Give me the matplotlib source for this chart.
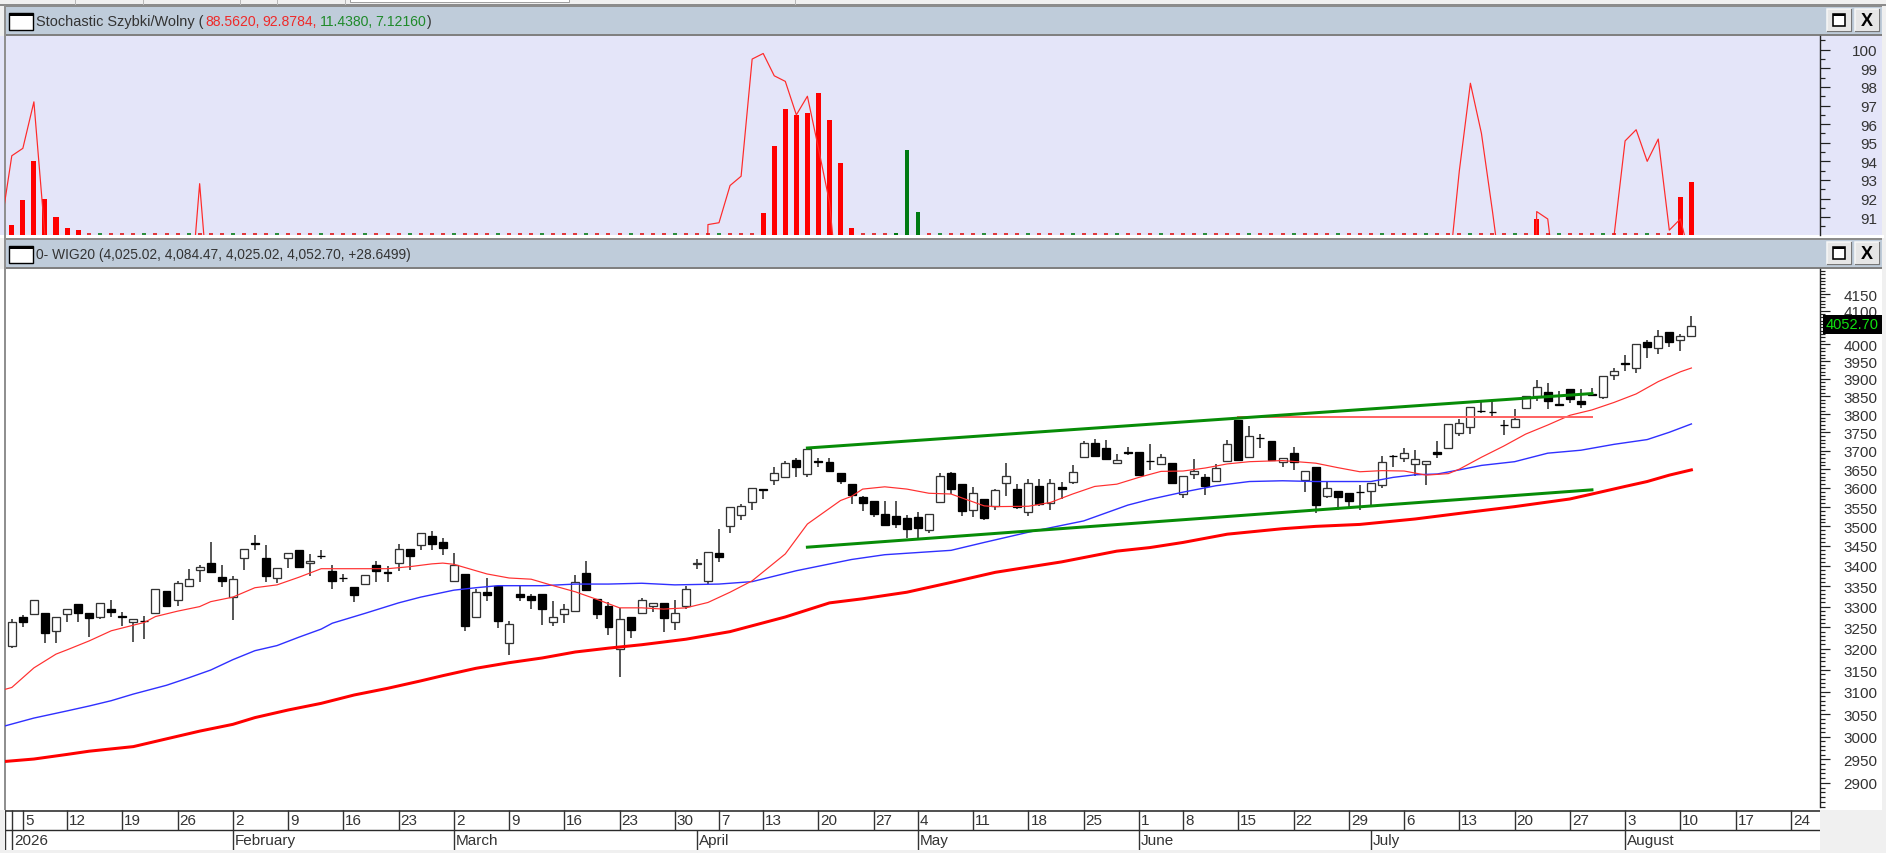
import numpy as np
import matplotlib
matplotlib.use("Agg")
import matplotlib.pyplot as plt
from matplotlib.patches import Rectangle
from matplotlib.ticker import FixedLocator, NullFormatter

plt.rcParams['font.family'] = ['Liberation Sans', 'DejaVu Sans']

# WIG20 daily candles (bar 0 = 2 Jan 2026)
open_ = [3206, 3274, 3281, 3285, 3242, 3282, 3306, 3285, 3275, 3294, 3277, 3262, 3266, 3284, 3339, 3315, 3351, 3389,
         3407, 3373, 3323, 3419, 3458, 3420, 3369, 3420, 3439, 3408, 3425, 3388, 3371, 3348, 3354, 3401, 3386, 3408,
         3442, 3452, 3476, 3461, 3363, 3380, 3275, 3336, 3351, 3213, 3331, 3325, 3331, 3263, 3281, 3290, 3383, 3319,
         3301, 3200, 3276, 3284, 3302, 3309, 3264, 3301, 3405, 3363, 3433, 3502, 3530, 3562, 3596, 3622, 3630, 3674,
         3636, 3671, 3670, 3639, 3610, 3575, 3567, 3531, 3526, 3522, 3525, 3491, 3563, 3639, 3610, 3541, 3570, 3553,
         3613, 3597, 3537, 3606, 3560, 3603, 3616, 3683, 3721, 3707, 3666, 3697, 3697, 3673, 3663, 3666, 3584, 3636,
         3630, 3618, 3673, 3785, 3683, 3735, 3725, 3668, 3694, 3620, 3657, 3580, 3593, 3587, 3590, 3591, 3608, 3686,
         3679, 3663, 3663, 3696, 3706, 3748, 3765, 3810, 3807, 3770, 3764, 3818, 3850, 3863, 3828, 3871, 3837, 3856,
         3847, 3911, 3944, 3930, 4008, 3988, 4036, 4014, 4025.02]
high = [3270, 3280, 3315, 3285, 3276, 3293, 3306, 3285, 3309, 3315, 3286, 3269, 3277, 3343, 3339, 3363, 3393, 3402,
        3459, 3402, 3374, 3442, 3478, 3453, 3395, 3433, 3439, 3431, 3440, 3402, 3380, 3348, 3378, 3412, 3399, 3455,
        3442, 3483, 3487, 3470, 3433, 3380, 3344, 3370, 3351, 3266, 3351, 3331, 3331, 3313, 3306, 3377, 3411, 3319,
        3312, 3296, 3276, 3322, 3309, 3309, 3315, 3351, 3418, 3436, 3493, 3550, 3557, 3600, 3596, 3656, 3673, 3679,
        3705, 3681, 3681, 3639, 3610, 3580, 3567, 3567, 3565, 3528, 3538, 3531, 3639, 3642, 3610, 3603, 3570, 3597,
        3666, 3610, 3623, 3623, 3623, 3615, 3661, 3727, 3732, 3729, 3691, 3711, 3697, 3718, 3691, 3666, 3631, 3677,
        3637, 3664, 3729, 3785, 3767, 3745, 3725, 3680, 3709, 3646, 3657, 3615, 3593, 3587, 3609, 3613, 3684, 3688,
        3707, 3702, 3673, 3725, 3772, 3787, 3821, 3835, 3839, 3785, 3815, 3852, 3897, 3888, 3866, 3871, 3871, 3874,
        3909, 3931, 3968, 4000, 4012, 4041, 4036, 4029, 4084.47]
low = [3202, 3250, 3281, 3214, 3212, 3262, 3262, 3228, 3269, 3274, 3254, 3216, 3222, 3284, 3298, 3301, 3351, 3359,
       3384, 3349, 3268, 3390, 3441, 3359, 3358, 3394, 3397, 3374, 3417, 3344, 3359, 3311, 3354, 3359, 3359, 3387,
       3391, 3441, 3441, 3428, 3363, 3241, 3275, 3313, 3248, 3185, 3314, 3293, 3256, 3253, 3261, 3290, 3341, 3269,
       3233, 3135, 3226, 3281, 3286, 3238, 3244, 3294, 3393, 3354, 3409, 3482, 3517, 3542, 3570, 3608, 3630, 3630,
       3628, 3655, 3646, 3611, 3559, 3540, 3523, 3502, 3497, 3469, 3468, 3484, 3563, 3584, 3526, 3523, 3516, 3543,
       3579, 3545, 3526, 3553, 3543, 3572, 3611, 3683, 3684, 3676, 3666, 3689, 3634, 3648, 3663, 3612, 3573, 3625,
       3582, 3618, 3670, 3675, 3681, 3706, 3675, 3655, 3648, 3589, 3534, 3573, 3541, 3549, 3541, 3552, 3599, 3657,
       3668, 3632, 3608, 3679, 3706, 3739, 3745, 3803, 3794, 3743, 3761, 3818, 3838, 3815, 3824, 3831, 3818, 3852,
       3844, 3896, 3923, 3918, 3959, 3973, 3991, 3981, 4025.02]
close = [3264, 3262, 3315, 3236, 3276, 3293, 3284, 3273, 3309, 3286, 3276, 3269, 3265, 3343, 3302, 3358, 3367, 3396,
         3384, 3363, 3367, 3442, 3454, 3375, 3395, 3433, 3397, 3413, 3424, 3362, 3370, 3327, 3378, 3388, 3382, 3442,
         3425, 3483, 3454, 3445, 3403, 3254, 3336, 3329, 3265, 3257, 3324, 3317, 3295, 3276, 3293, 3360, 3341, 3281,
         3251, 3269, 3244, 3315, 3309, 3272, 3284, 3343, 3406, 3436, 3422, 3550, 3553, 3600, 3595, 3639, 3666, 3655,
         3705, 3670, 3646, 3618, 3582, 3560, 3533, 3503, 3507, 3492, 3495, 3531, 3632, 3596, 3540, 3586, 3522, 3594,
         3631, 3551, 3613, 3557, 3613, 3596, 3643, 3720, 3686, 3676, 3674, 3694, 3634, 3672, 3683, 3612, 3631, 3644,
         3604, 3653, 3718, 3675, 3741, 3734, 3675, 3680, 3668, 3646, 3555, 3600, 3576, 3567, 3589, 3613, 3670, 3685,
         3694, 3676, 3673, 3690, 3772, 3776, 3821, 3809, 3806, 3769, 3786, 3852, 3876, 3838, 3827, 3843, 3829, 3855,
         3909, 3923, 3943, 4000, 3992, 4025, 4007, 4024, 4052.70]

# moving averages, (bar, value) read at the bends
ma_fast_idx = [-1, 0, 2, 4, 5, 7, 9, 12, 13, 15, 17, 18, 20, 22, 24, 26, 28, 31, 34, 36, 38, 39, 40, 43, 45, 47, 49,
               51, 53, 55, 57, 59, 61, 63, 65, 67, 70, 72, 75, 76, 77, 79, 81, 83, 85, 88, 89, 92, 94, 96, 98, 100,
               102, 104, 106, 108, 110, 112, 115, 118, 120, 122, 124, 126, 128, 130, 131, 133, 135, 137, 139, 141,
               143, 145, 147, 149, 151, 152]
ma_fast = [3103, 3110, 3155, 3187, 3197, 3218, 3242, 3262, 3276, 3289, 3300, 3312, 3323, 3346, 3353, 3372, 3393, 3393,
           3393, 3398, 3405, 3407, 3404, 3380, 3370, 3367, 3351, 3336, 3317, 3297, 3297, 3294, 3297, 3310, 3335, 3363,
           3430, 3506, 3567, 3578, 3597, 3603, 3597, 3586, 3584, 3553, 3551, 3552, 3562, 3584, 3604, 3610, 3628, 3644,
           3645, 3653, 3664, 3670, 3673, 3666, 3654, 3643, 3646, 3645, 3634, 3638, 3650, 3682, 3712, 3745, 3770, 3797,
           3812, 3833, 3857, 3892, 3920, 3931]
ma_mid_idx = [-1, 2, 5, 7, 9, 11, 14, 16, 18, 20, 22, 24, 26, 28, 29, 32, 35, 37, 40, 42, 44, 48, 51, 54, 57, 60,
              64, 67, 71, 76, 79, 85, 88, 92, 97, 101, 103, 106, 109, 112, 115, 118, 123, 125, 127, 129, 131, 133,
              136, 139, 142, 145, 148, 150, 152]
ma_mid = [3021, 3041, 3057, 3068, 3080, 3095, 3115, 3132, 3150, 3174, 3195, 3207, 3227, 3246, 3260, 3284, 3309, 3323,
          3340, 3346, 3351, 3351, 3355, 3355, 3357, 3353, 3355, 3361, 3388, 3416, 3428, 3439, 3459, 3485, 3514, 3555,
          3570, 3589, 3606, 3617, 3619, 3617, 3617, 3628, 3635, 3637, 3648, 3660, 3670, 3693, 3701, 3717, 3730, 3750,
          3773]
ma_slow_idx = [-1, 2, 5, 7, 11, 14, 17, 20, 22, 25, 28, 31, 34, 37, 39, 42, 45, 48, 51, 54, 57, 61, 65, 70, 74, 77,
               81, 85, 89, 92, 95, 100, 103, 106, 110, 115, 118, 122, 127, 132, 136, 141, 143, 146, 148, 150, 152]
ma_slow = [2945, 2951, 2961, 2968, 2978, 2995, 3012, 3027, 3042, 3059, 3074, 3093, 3108, 3125, 3137, 3154, 3167, 3178,
           3192, 3201, 3209, 3222, 3240, 3275, 3309, 3319, 3335, 3359, 3384, 3397, 3410, 3437, 3446, 3459, 3480, 3494,
           3500, 3505, 3519, 3537, 3551, 3571, 3584, 3604, 3617, 3634, 3648]

# drawn trend lines: [first bar, last bar], [first value, last value]
trend_bars = [72, 143]
trend_top = [3707, 3858]
trend_bottom = [3447, 3595]
flat_bars = [111, 143]
flat_level = [3791, 3791]

# stochastic panel
stoch_idx = [-1, 0, 1, 2, 3, 16, 17, 18, 62, 63, 64, 65, 66, 67, 68, 69, 70, 71, 72, 73, 74, 75, 130, 131, 132, 133,
             134, 135, 137, 138, 139, 140, 145, 146, 147, 148, 149, 150, 151, 152]
stoch_fast = [90.4, 94.3, 94.7, 97.2, 90.0, 85.5, 92.8, 85.5, 60, 90.6, 90.7, 92.7, 93.2, 99.5, 99.8, 98.6, 98.3, 96.5,
              97.5, 94.7, 91.8, 85.6, 87.7, 93.5, 98.2, 95.5, 91.3, 86.8, 60, 91.3, 90.9, 85.9, 90.0, 95.1, 95.7, 94.0,
              95.2, 90.3, 90.9, 88.56]
red_bar_idx = [0, 1, 2, 3, 4, 5, 6, 68, 69, 70, 71, 72, 73, 74, 75, 76, 138, 151, 152]
red_bar_val = [90.6, 91.9, 94.0, 92.0, 91.0, 90.4, 90.3, 91.2, 94.8, 96.8, 96.5, 96.6, 97.7, 96.2, 93.9, 90.4, 90.9,
               92.1, 92.9]
green_bar_idx = [80, 81, 82]
green_bar_val = [90.15, 94.6, 91.3]

# date axis
week_idx = [0, 1, 5, 10, 15, 20, 25, 30, 35, 40, 45, 50, 55, 60, 64, 68, 73, 78, 82, 87, 92, 97, 102, 106, 111, 116,
            121, 126, 131, 136, 141, 146, 151, 156, 161]
week_lab = ['', '5', '12', '19', '26', '2', '9', '16', '23', '2', '9', '16', '23', '30', '7', '13', '20', '27', '4',
            '11', '18', '25', '1', '8', '15', '22', '29', '6', '13', '20', '27', '3', '10', '17', '24']
month_idx = [0, 20, 40, 62, 82, 102, 123, 146]
month_lab = ['2026', 'February', 'March', 'April', 'May', 'June', 'July', 'August']

W, H = 1886, 854
PX = 0.72
BAR0, BAR_W = 11.8, 11.05
LEFT, RIGHT = 5, 1820
BAR_COLOR = '#bfccda'
LAVENDER = '#e4e5f9'
TEXT = '#333333'


def box(top, bottom, left=LEFT, right=RIGHT):
    return [left / W, 1 - bottom / H, (right - left) / W, (bottom - top) / H]


def window_icon(ax, y):
    ax.add_patch(Rectangle((9, y), 24, 17, fc='white', ec='black', lw=1.4 * PX))
    ax.add_patch(Rectangle((9, y), 24, 3, fc='black', ec='black', lw=0))


def buttons(ax, y):
    for x0 in (1827, 1855):
        ax.add_patch(Rectangle((x0, y), 24, 22, fc='#e6e6e6', ec='#f8f8f8', lw=1.5 * PX))
        ax.plot([x0, x0 + 24, x0 + 24], [y + 22, y + 22, y], color='#777777', lw=1.2 * PX)
    ax.add_patch(Rectangle((1833, y + 5), 12, 12, fc='white', ec='black', lw=1.6 * PX))
    ax.add_patch(Rectangle((1833, y + 5), 12, 2, fc='black', lw=0))
    ax.text(1867, y + 11.5, 'X', ha='center', va='center', fontsize=13, fontweight='bold', color='black')


fig = plt.figure(figsize=(W / 100, H / 100), dpi=100, facecolor='#f0f0f0')

# window chrome in pixel coordinates
bg = fig.add_axes([0, 0, 1, 1], zorder=0)
bg.set_xlim(0, W)
bg.set_ylim(H, 0)
bg.axis('off')
bg.add_patch(Rectangle((0, 0), W, H, fc='#f0f0f0', lw=0))
bg.add_patch(Rectangle((0, 5), W, 2, fc='#8c8c8c', lw=0))
bg.add_patch(Rectangle((350, 0), 219, 2.5, fc='white', ec='#a0a0a0', lw=PX))
for xt in (75, 143, 240, 277, 345, 795):
    bg.plot([xt, xt], [0, 5], color='#b8b8b8', lw=PX)
bg.add_patch(Rectangle((0, 37), 1882, 200, fc=LAVENDER, lw=0))
bg.add_patch(Rectangle((0, 270), 1882, 541, fc='white', lw=0))
bg.add_patch(Rectangle((0, 236), 1884, 3, fc='white', lw=0))
for top in (8, 241):
    bg.add_patch(Rectangle((4, top), 1878, 27, fc=BAR_COLOR, lw=0))
    bg.add_patch(Rectangle((4, top + 26.5), 1878, 2.5, fc='#808080', lw=0))
    bg.add_patch(Rectangle((4, top - 2.5), 1878, 2.5, fc='#8c8c8c', lw=0))
    window_icon(bg, top + 6)
    buttons(bg, top + 2)
bg.add_patch(Rectangle((3.5, 6), 2, 805, fc='#909090', lw=0))

bg.text(36, 22, 'Stochastic Szybki/Wolny (', va='center', fontsize=10.45, color=TEXT)
for xt, s, c in [(205.5, '88.5620,', '#ee2a2a'), (262, '92.8784,', '#ee2a2a'), (319.5, '11.4380,', '#1f8a2a'),
                 (375, '7.12160', '#1f8a2a'), (427, ')', TEXT)]:
    bg.text(xt, 22, s, va='center', fontsize=10.1, color=c)
bg.text(36, 255, '0- WIG20 (4,025.02, 4,084.47, 4,025.02, 4,052.70, +28.6499)', va='center', fontsize=9.9, color=TEXT)

# stochastic panel
ax1 = fig.add_axes(box(37, 236), zorder=1, facecolor=LAVENDER)
xlim = ((LEFT - BAR0) / BAR_W, (RIGHT - BAR0) / BAR_W)
ax1.bar(red_bar_idx, np.array(red_bar_val) - 89, bottom=89, width=0.46, color='#ff0000', lw=0)
ax1.bar(green_bar_idx, np.array(green_bar_val) - 89, bottom=89, width=0.36, color='#007a12', lw=0)
ax1.plot(stoch_idx, stoch_fast, color='#ff2a2a', lw=1.2 * PX)
skip = set(red_bar_idx) | set(green_bar_idx)
dash_idx = [i for i in range(7, 153) if i not in skip]
dash_red = [i for i in dash_idx if i % 4]
dash_green = [i for i in dash_idx if not i % 4]
ax1.plot(dash_red, [90.11] * len(dash_red), ls='', marker='_', ms=4 * PX, mew=1.6 * PX, color='#e01010')
ax1.plot(dash_green, [90.11] * len(dash_green), ls='', marker='_', ms=4 * PX, mew=1.6 * PX, color='#007a12')
ax1.set_xlim(*xlim)
ax1.set_ylim(90.04, 100.74)
ax1.set_xticks([])
ax1.yaxis.tick_right()
ax1.set_yticks(np.arange(91, 101))
ax1.yaxis.set_minor_locator(FixedLocator(np.arange(90.5, 101, 1)))
ax1.yaxis.set_minor_formatter(NullFormatter())

# price panel, log scale like the original
ax2 = fig.add_axes(box(270, 808), zorder=1, facecolor='white')
opens, closes = np.array(open_), np.array(close)
idx = np.arange(len(close))
ax2.vlines(idx, low, high, color='#222222', lw=1.5 * PX, zorder=2)
up = closes >= opens
ax2.bar(idx[up], (closes - opens)[up], bottom=opens[up], width=0.72, fc='white', ec='#333333', lw=1.3 * PX, zorder=3)
ax2.bar(idx[~up], (opens - closes)[~up], bottom=closes[~up], width=0.72, fc='black', ec='black', lw=1.3 * PX, zorder=3)
ax2.plot(ma_slow_idx, ma_slow, color='#ff0000', lw=3 * PX, zorder=4)
ax2.plot(ma_mid_idx, ma_mid, color='#3030ff', lw=1.4 * PX, zorder=4)
ax2.plot(ma_fast_idx, ma_fast, color='#ff3030', lw=1.2 * PX, zorder=4)
ax2.plot(flat_bars, flat_level, color='#ff6464', lw=2 * PX, zorder=4)
ax2.plot(trend_bars, trend_top, color='#078c07', lw=3 * PX, zorder=5)
ax2.plot(trend_bars, trend_bottom, color='#078c07', lw=3 * PX, zorder=5)
ax2.set_yscale('log')
ax2.set_xlim(*xlim)
ax2.set_ylim(2849, 4227)
ax2.set_xticks([])
ax2.yaxis.tick_right()
ax2.yaxis.set_major_locator(FixedLocator(np.arange(2900, 4151, 50)))
ax2.yaxis.set_major_formatter(lambda v, pos: f'{v:.0f}')
ax2.yaxis.set_minor_locator(FixedLocator(np.arange(2850, 4230, 10)))
ax2.yaxis.set_minor_formatter(NullFormatter())

for ax in (ax1, ax2):
    for side in ('top', 'left', 'bottom'):
        ax.spines[side].set_visible(False)
    ax.spines['right'].set_color('#222222')
    ax.spines['right'].set_linewidth(1.4 * PX)
    ax.patch.set_alpha(0)
    ax.tick_params(axis='y', which='major', length=10 * PX, width=1.2 * PX, color='#222222', labelsize=11,
                   labelcolor=TEXT, pad=34)
    ax.tick_params(axis='y', which='minor', length=5 * PX, width=1.2 * PX, color='#222222')
    for lab in ax.get_yticklabels():
        lab.set_ha('right')

# last price flag
ax2.annotate(f'{close[-1]:.2f}', xy=(1, close[-1]), xycoords=('axes fraction', 'data'), xytext=(32.5, 2), textcoords='offset pixels',
             ha='center', va='center', fontsize=10.5, color='#10e010', annotation_clip=False,
             bbox=dict(boxstyle='square,pad=0.18', fc='black', ec='black', lw=0), zorder=10)

# date axis
ax3 = fig.add_axes(box(811, 851), zorder=1, facecolor='white')
ax3.set_xlim(*xlim)
ax3.set_ylim(2, 0)
ax3.axis('off')
ax3.add_patch(Rectangle((xlim[0], 0), xlim[1] - xlim[0], 2, fc='white', lw=0))
ax3.axhline(0.03, color='#2a2a2a', lw=1.6 * PX)
ax3.axhline(1.0, color='#2a2a2a', lw=1.4 * PX)
ax3.vlines(week_idx, 0, 1, color='#333333', lw=1.4 * PX)
ax3.vlines(month_idx, 1, 2, color='#333333', lw=1.4 * PX)
ax3.vlines([xlim[0] + 0.02], 0, 2, color='#333333', lw=1.4 * PX)
for i, s in zip(week_idx, week_lab):
    ax3.annotate(s, xy=(i, 0.52), xytext=(2, 0), textcoords='offset pixels', va='center', fontsize=11, color=TEXT)
for i, s in zip(month_idx, month_lab):
    ax3.annotate(s, xy=(i, 1.52), xytext=(2, 0), textcoords='offset pixels', va='center', fontsize=11, color=TEXT)

fig.savefig('out.png', dpi=100, facecolor=fig.get_facecolor())
